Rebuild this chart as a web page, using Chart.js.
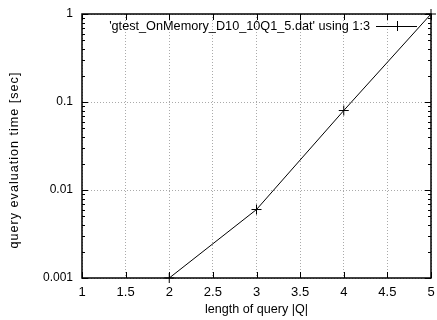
<!DOCTYPE html>
<html>
<head>
<meta charset="utf-8">
<script src="https://cdn.jsdelivr.net/npm/chart.js@4.4.1/dist/chart.umd.min.js"></script>
<style>
  html, body { margin: 0; padding: 0; background: #fff; }
  #wrap { width: 437px; height: 320px; }
</style>
</head>
<body>
<div id="wrap"><canvas id="chart" width="437" height="320"></canvas></div>
<script>
// values
const queryLength = [2, 3, 4, 5];
const evalTime = [0.001, 0.006, 0.08, 1];
const yTickValues = [0.001, 0.01, 0.1, 1];
const seriesLabel = "'gtest_OnMemory_D10_10Q1_5.dat' using 1:3";
const yTitle = "query evaluation time [sec]";

const FONT = "'Liberation Sans', Arial, sans-serif";

// gnuplot style: frame, inward ticks on all four sides, minor log ticks, key, y title
const gnuplotFrame = {
    id: "gnuplotFrame",
    afterDatasetsDraw(chart) {
        const { ctx, chartArea: a, scales } = chart;
        const x = scales.x, y = scales.y;
        ctx.save();
        ctx.strokeStyle = "#000";
        ctx.lineWidth = 1;
        ctx.beginPath();
        x.ticks.forEach(t => {
            const px = Math.round(x.getPixelForValue(t.value)) + 0.5;
            ctx.moveTo(px, a.bottom); ctx.lineTo(px, a.bottom - 6);
            ctx.moveTo(px, a.top); ctx.lineTo(px, a.top + 6);
        });
        y.ticks.forEach(t => {
            const py = Math.round(y.getPixelForValue(t.value)) + 0.5;
            ctx.moveTo(a.left, py); ctx.lineTo(a.left + 6, py);
            ctx.moveTo(a.right, py); ctx.lineTo(a.right - 6, py);
        });
        for (let i = 0; i < yTickValues.length - 1; i++) {
            for (let m = 2; m <= 9; m++) {
                const py = Math.round(y.getPixelForValue(yTickValues[i] * m)) + 0.5;
                ctx.moveTo(a.left, py); ctx.lineTo(a.left + 3, py);
                ctx.moveTo(a.right, py); ctx.lineTo(a.right - 3, py);
            }
        }
        ctx.stroke();
        ctx.lineWidth = 1.5;
        ctx.strokeRect(a.left, a.top, a.right - a.left, a.bottom - a.top);

        // key
        const ky = a.top + 12;
        ctx.font = "12.7px " + FONT;
        ctx.fillStyle = "#000";
        ctx.textAlign = "right";
        ctx.textBaseline = "middle";
        ctx.fillText(chart.data.datasets[0].label, 370, ky);
        ctx.lineWidth = 1;
        ctx.beginPath();
        ctx.moveTo(376, ky + 0.5); ctx.lineTo(417, ky + 0.5);
        ctx.moveTo(397.5, ky - 5); ctx.lineTo(397.5, ky + 5);
        ctx.stroke();

        // y axis title (gnuplot centres it a bit lower than the plot middle)
        ctx.translate(15, 160);
        ctx.rotate(-Math.PI / 2);
        ctx.textAlign = "center";
        ctx.font = "12.6px " + FONT;
        ctx.letterSpacing = "1px";
        ctx.fillText(yTitle, 0, 0);
        ctx.restore();
    }
};

new Chart(document.getElementById("chart"), {
    type: "line",
    data: {
        datasets: [{
            label: seriesLabel,
            data: queryLength.map((q, i) => ({ x: q, y: evalTime[i] })),
            borderColor: "#000",
            backgroundColor: "#000",
            borderWidth: 1,
            pointStyle: "cross",
            pointRadius: 5,
            pointBorderWidth: 1,
            tension: 0,
            clip: false
        }]
    },
    options: {
        responsive: false,
        animation: false,
        layout: { padding: { top: 14, right: 5, left: 0, bottom: 0 } },
        plugins: { legend: { display: false }, tooltip: { enabled: false } },
        scales: {
            x: {
                type: "linear",
                min: 1, max: 5,
                ticks: { stepSize: 0.5, padding: 7, color: "#000", font: { family: FONT, size: 13 },
                         callback: v => String(v) },
                grid: { color: "#aaa", drawTicks: false },
                border: { display: false, dash: [1, 2] },
                title: { display: true, text: "length of query |Q|", color: "#000",
                         font: { family: FONT, size: 12.6 }, padding: { top: 0, bottom: 3 } },
                afterFit(s) { s.height = 42; s.paddingLeft = 0; s.paddingRight = 0; }
            },
            y: {
                type: "logarithmic",
                min: 0.001, max: 1,
                afterBuildTicks(s) { s.ticks = yTickValues.map(v => ({ value: v })); },
                ticks: { padding: 9, color: "#000", font: { family: FONT, size: 12 },
                         callback: v => String(v) },
                grid: { color: "#aaa", drawTicks: false },
                border: { display: false, dash: [1, 2] },
                afterFit(s) { s.width = 82; s.paddingTop = 0; s.paddingBottom = 0; }
            }
        }
    },
    plugins: [gnuplotFrame]
});
</script>
</body>
</html>
